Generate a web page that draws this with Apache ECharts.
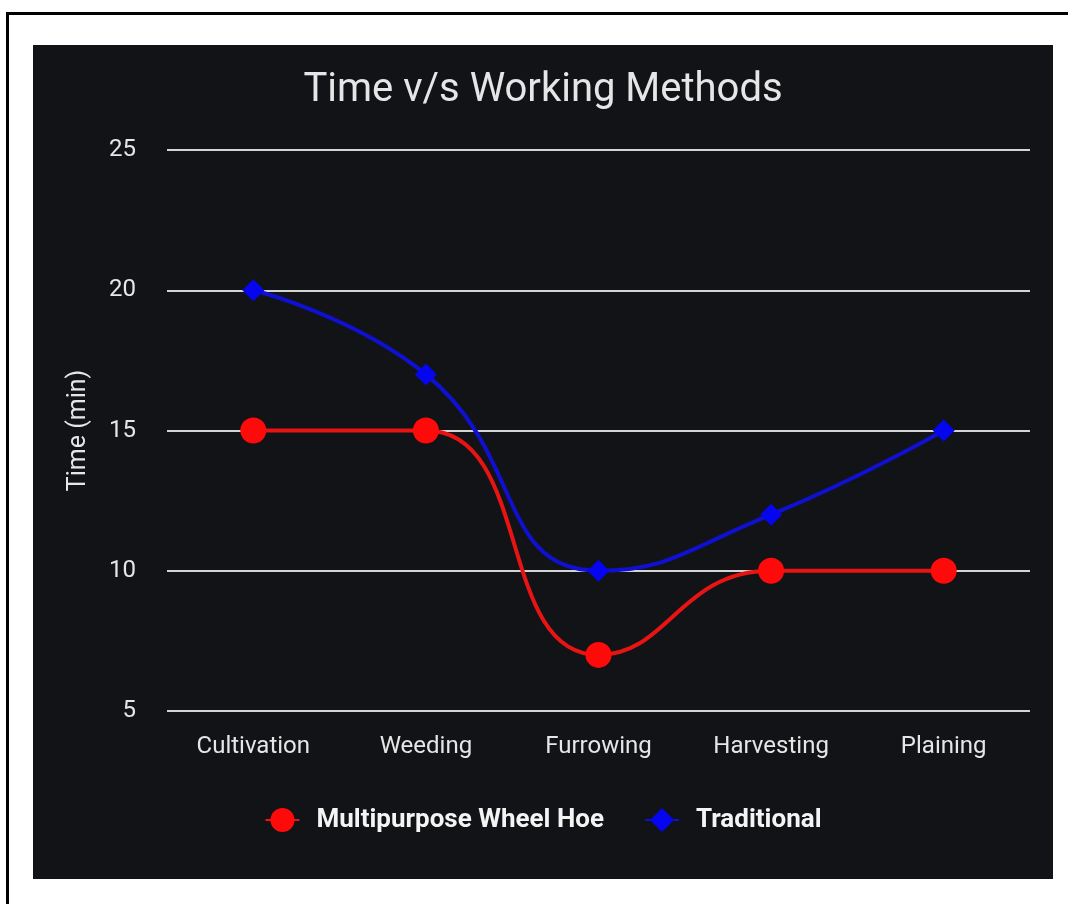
<!DOCTYPE html>
<html>
<head>
<meta charset="utf-8">
<script src="https://cdn.jsdelivr.net/npm/echarts@6/dist/echarts.min.js"></script>
<style>
	html, body { margin: 0; padding: 0; background: #fff; }
	#frame {
		position: absolute; left: 6px; top: 12px; width: 1062px; height: 892px;
		border-top: 3px solid #000; border-left: 3px solid #000; box-sizing: border-box;
	}
	#chart { position: absolute; left: 33px; top: 45px; width: 1020px; height: 834px; }
</style>
</head>
<body>
<div id="frame"></div>
<div id="chart"></div>
<script>
	/* ---------------------------------------------
     Data
--------------------------------------------- */
	const categories = ['Cultivation', 'Weeding', 'Furrowing', 'Harvesting', 'Plaining'];
	const wheelHoe = [15, 15, 7, 10, 10];
	const traditional = [20, 17, 10, 12, 15];
	const seriesNames = ['Multipurpose Wheel Hoe', 'Traditional'];

	/* ---------------------------------------------
     Chart
--------------------------------------------- */
	const fontFamily = 'Roboto, "Noto Sans", sans-serif';
	const textColor = '#e6e6e6';

	const chart = echarts.init(document.getElementById('chart'));
	const options = {
		backgroundColor: '#111317',
		animation: false,
		title: {
			text: 'Time v/s Working Methods',
			left: 'center',
			top: 21,
			textStyle: { color: textColor, fontSize: 40, fontWeight: 'normal', fontFamily },
		},
		legend: {
			bottom: 41,
			left: 'center',
			itemWidth: 34,
			itemHeight: 30,
			itemGap: 40,
			data: seriesNames,
			textStyle: {
				color: '#f4f4f4', fontSize: 26, fontWeight: 'bold', fontFamily,
				padding: [0, 0, 0, 12],
			},
		},
		grid: { left: 134, right: 23, top: 105, bottom: 168 },
		xAxis: {
			type: 'category',
			data: categories,
			boundaryGap: true,
			axisLine: { show: false },
			axisTick: { show: false },
			axisLabel: { color: textColor, fontSize: 24, fontFamily, margin: 24 },
		},
		yAxis: {
			type: 'value',
			min: 5,
			max: 25,
			interval: 5,
			name: 'Time (min)',
			nameLocation: 'middle',
			nameGap: 76,
			nameTextStyle: { color: textColor, fontSize: 25, fontFamily },
			axisLine: { show: false },
			axisTick: { show: false },
			axisLabel: { color: textColor, fontSize: 24, fontFamily, margin: 31 },
			splitLine: { lineStyle: { color: '#d4d4d4', width: 2 } },
		},
		series: [
			{
				name: seriesNames[0],
				type: 'line',
				data: wheelHoe,
				smooth: true,
				symbol: 'circle',
				symbolSize: 26,
				itemStyle: { color: '#ff0a0a' },
				lineStyle: { color: '#e81414', width: 4 },
			},
			{
				name: seriesNames[1],
				type: 'line',
				data: traditional,
				smooth: true,
				symbol: 'diamond',
				symbolSize: 22,
				itemStyle: { color: '#0505f0' },
				lineStyle: { color: '#1010d0', width: 4 },
			},
		],
	};
	chart.setOption(options);
</script>
</body>
</html>
